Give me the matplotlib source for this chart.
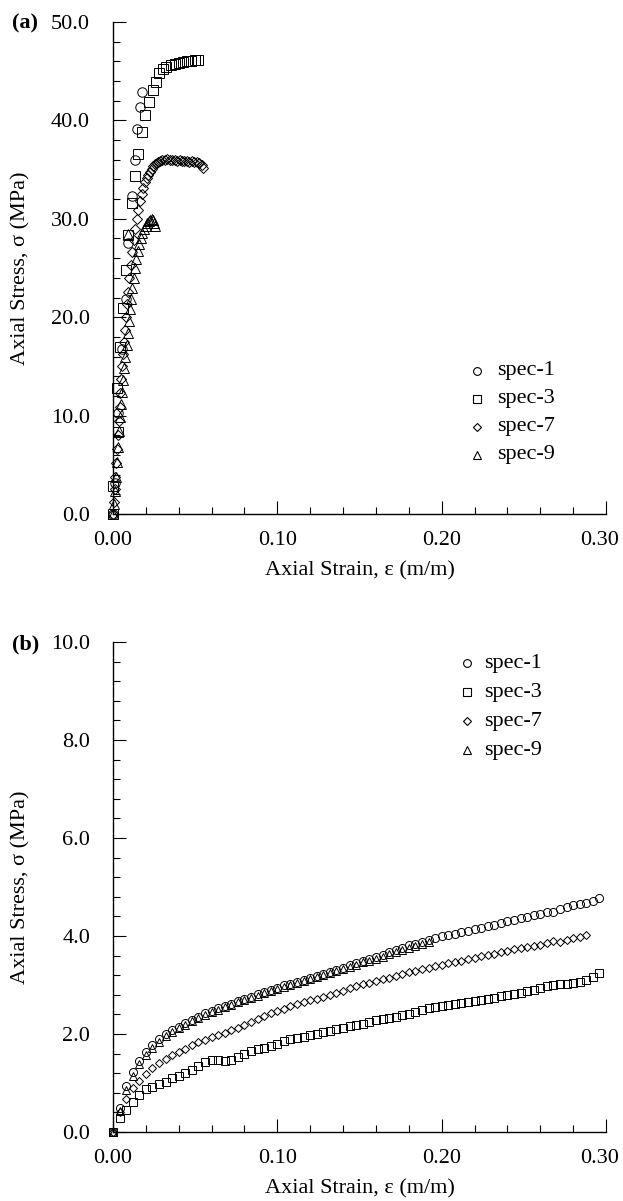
import matplotlib
matplotlib.use("Agg")
import matplotlib.pyplot as plt
from matplotlib.ticker import MultipleLocator, FormatStrFormatter
from matplotlib.transforms import ScaledTranslation

plt.rcParams['font.family'] = ['Liberation Serif', 'DejaVu Serif']

# ---------------- Data: panel (a) ----------------
a_spec1_strain = [0.0, 0.0012, 0.0032, 0.0055, 0.0077, 0.0093, 0.0114, 0.0134, 0.0148, 0.0162, 0.0175]
a_spec1_stress = [0.0, 3.1, 10.3, 16.8, 21.8, 27.5, 32.3, 36.0, 39.1, 41.4, 42.9]

a_spec3_strain = [0.0, 0.0002, 0.0032, 0.0023, 0.0043, 0.0063, 0.0080, 0.0093, 0.0117, 0.0136,
                  0.0154, 0.0175, 0.0195, 0.0219, 0.0241, 0.0260, 0.0282, 0.0302, 0.0325, 0.0350,
                  0.0375, 0.0400, 0.0425, 0.0450, 0.0475, 0.0500, 0.0520]
a_spec3_stress = [0.0, 2.8, 8.3, 12.8, 17.0, 20.9, 24.8, 28.4, 31.6, 34.3,
                  36.6, 38.8, 40.5, 41.9, 43.1, 43.9, 44.8, 45.2, 45.45, 45.6,
                  45.75, 45.85, 45.95, 46.0, 46.05, 46.1, 46.1]

a_spec7_strain = [0.0, 0.0005, 0.001, 0.0015, 0.002, 0.0025, 0.003, 0.0035, 0.004, 0.0045,
                  0.005, 0.0055, 0.006, 0.0065, 0.007, 0.0078, 0.0085, 0.0092, 0.010, 0.0108,
                  0.0117, 0.0126, 0.0135, 0.0145, 0.0155, 0.0165, 0.0175, 0.0185, 0.0195, 0.0205,
                  0.0215, 0.0225, 0.0235, 0.0245, 0.0255, 0.0265, 0.0275, 0.0285, 0.030, 0.0315,
                  0.033, 0.0345, 0.036, 0.0375, 0.039, 0.0405, 0.042, 0.0435, 0.045, 0.0465,
                  0.048, 0.0495, 0.051, 0.0525, 0.054, 0.055]
a_spec7_stress = [0.0, 1.2, 2.5, 3.8, 5.2, 6.6, 8.0, 9.5, 10.9, 12.3,
                  13.7, 15.0, 16.3, 17.5, 18.7, 20.0, 21.3, 22.6, 24.0, 25.3,
                  26.6, 27.8, 29.0, 30.0, 30.9, 31.8, 32.5, 33.1, 33.7, 34.1,
                  34.5, 34.8, 35.1, 35.4, 35.6, 35.7, 35.8, 35.9, 36.0, 36.0,
                  36.1, 36.0, 36.0, 36.0, 35.9, 36.0, 35.9, 35.9, 35.9, 35.8,
                  35.9, 35.8, 35.8, 35.7, 35.5, 35.2]

a_spec9_strain = [0.0, 0.0006, 0.0012, 0.0018, 0.0024, 0.003, 0.0036, 0.0042, 0.0048, 0.0055,
                  0.0062, 0.0069, 0.0076, 0.0083, 0.0090, 0.0090, 0.0097, 0.0104, 0.0111, 0.0118,
                  0.0125, 0.0133, 0.0141, 0.0150, 0.0159, 0.0168, 0.0178, 0.0188, 0.0198, 0.0208,
                  0.0218, 0.0228, 0.0238, 0.0245, 0.0250, 0.0255]
a_spec9_stress = [0.0, 1.0, 2.3, 3.8, 5.3, 6.8, 8.4, 9.9, 11.2, 12.4,
                  13.6, 14.8, 16.0, 17.2, 18.4, 28.5, 19.6, 20.8, 21.9, 23.0,
                  24.0, 25.0, 25.9, 26.7, 27.4, 28.0, 28.6, 29.0, 29.3, 29.6,
                  29.8, 29.9, 30.0, 29.9, 29.6, 29.3]

# ---------------- Data: panel (b) ----------------
b_strain = [0.000, 0.004, 0.008, 0.012, 0.016, 0.020, 0.024, 0.028, 0.032, 0.036,
            0.040, 0.044, 0.048, 0.052, 0.056, 0.060, 0.064, 0.068, 0.072, 0.076,
            0.080, 0.084, 0.088, 0.092, 0.096, 0.100, 0.104, 0.108, 0.112, 0.116,
            0.120, 0.124, 0.128, 0.132, 0.136, 0.140, 0.144, 0.148, 0.152, 0.156,
            0.160, 0.164, 0.168, 0.172, 0.176, 0.180, 0.184, 0.188, 0.192, 0.196,
            0.200, 0.204, 0.208, 0.212, 0.216, 0.220, 0.224, 0.228, 0.232, 0.236,
            0.240, 0.244, 0.248, 0.252, 0.256, 0.260, 0.264, 0.268, 0.272, 0.276,
            0.280, 0.284, 0.288, 0.292, 0.296]

b_spec1_stress = [0.00, 0.50, 0.93, 1.22, 1.45, 1.63, 1.78, 1.89, 1.99, 2.08,
                  2.15, 2.22, 2.28, 2.35, 2.42, 2.47, 2.53, 2.57, 2.62, 2.67,
                  2.71, 2.76, 2.81, 2.85, 2.90, 2.94, 2.99, 3.03, 3.07, 3.10,
                  3.14, 3.18, 3.22, 3.26, 3.31, 3.35, 3.40, 3.44, 3.49, 3.53,
                  3.58, 3.62, 3.67, 3.72, 3.76, 3.81, 3.84, 3.88, 3.92, 3.96,
                  3.99, 4.02, 4.05, 4.08, 4.10, 4.14, 4.17, 4.20, 4.23, 4.27,
                  4.30, 4.33, 4.36, 4.38, 4.42, 4.45, 4.50, 4.48, 4.56, 4.60,
                  4.63, 4.65, 4.68, 4.72, 4.78]

b_spec3_stress = [0.00, 0.28, 0.45, 0.62, 0.76, 0.87, 0.92, 0.97, 1.03, 1.10,
                  1.15, 1.20, 1.27, 1.34, 1.43, 1.47, 1.46, 1.45, 1.47, 1.53,
                  1.60, 1.65, 1.69, 1.72, 1.76, 1.80, 1.86, 1.89, 1.91, 1.94,
                  1.97, 2.00, 2.04, 2.07, 2.10, 2.13, 2.17, 2.19, 2.21, 2.24,
                  2.28, 2.31, 2.33, 2.35, 2.38, 2.41, 2.45, 2.49, 2.54, 2.56,
                  2.57, 2.59, 2.61, 2.63, 2.65, 2.67, 2.70, 2.72, 2.74, 2.77,
                  2.80, 2.82, 2.84, 2.87, 2.90, 2.93, 2.98, 3.00, 3.02, 3.03,
                  3.04, 3.06, 3.10, 3.16, 3.24]

b_spec7_stress = [0.00, 0.40, 0.68, 0.90, 1.05, 1.18, 1.30, 1.40, 1.50, 1.57,
                  1.64, 1.70, 1.77, 1.83, 1.88, 1.93, 1.98, 2.03, 2.08, 2.13,
                  2.18, 2.24, 2.30, 2.36, 2.42, 2.47, 2.52, 2.58, 2.62, 2.65,
                  2.69, 2.72, 2.76, 2.80, 2.84, 2.88, 2.93, 2.98, 3.02, 3.05,
                  3.08, 3.12, 3.15, 3.19, 3.22, 3.26, 3.29, 3.32, 3.35, 3.38,
                  3.41, 3.44, 3.47, 3.50, 3.53, 3.56, 3.59, 3.61, 3.64, 3.67,
                  3.70, 3.73, 3.75, 3.78, 3.80, 3.82, 3.85, 3.89, 3.87, 3.91,
                  3.95, 3.98, 4.03]

b_spec9_stress = [0.00, 0.42, 0.85, 1.15, 1.38, 1.57, 1.72, 1.84, 1.95, 2.04,
                  2.12, 2.19, 2.26, 2.32, 2.38, 2.44, 2.50, 2.55, 2.60, 2.65,
                  2.69, 2.74, 2.78, 2.83, 2.87, 2.92, 2.96, 3.00, 3.04, 3.08,
                  3.12, 3.16, 3.20, 3.24, 3.28, 3.33, 3.37, 3.41, 3.46, 3.50,
                  3.54, 3.58, 3.63, 3.67, 3.71, 3.75, 3.79, 3.83, 3.87]

labels = ['spec-1', 'spec-3', 'spec-7', 'spec-9']
markers = ['o', 's', 'D', '^']

FS = 16

fig = plt.figure(figsize=(6.23, 12.01), dpi=100)
W, H = 623.0, 1201.0
ax1 = fig.add_axes([113 / W, 1 - 514 / H, 493 / W, 492 / H])
ax2 = fig.add_axes([113 / W, 1 - 1132 / H, 493 / W, 490 / H])


def msz(m, base):
    if m == 'D':
        return base * 0.72
    if m == '^':
        return base * 1.05
    return base


def style_axes(ax, ymax, ymajor, yminor, ypad):
    ax.set_xlim(0, 0.30)
    ax.set_ylim(0, ymax)
    for s in ['top', 'right']:
        ax.spines[s].set_visible(False)
    for s in ['left', 'bottom']:
        ax.spines[s].set_linewidth(1.0)
    ax.xaxis.set_major_locator(MultipleLocator(0.10))
    ax.xaxis.set_minor_locator(MultipleLocator(0.02))
    ax.yaxis.set_major_locator(MultipleLocator(ymajor))
    ax.yaxis.set_minor_locator(MultipleLocator(yminor))
    ax.xaxis.set_major_formatter(FormatStrFormatter('%.2f'))
    ax.yaxis.set_major_formatter(FormatStrFormatter('%.1f'))
    ax.tick_params(which='both', direction='in', top=False, right=False, labelsize=FS)
    ax.tick_params(which='major', length=9.5, width=0.8)
    ax.tick_params(which='minor', length=4.8, width=0.8)
    ax.tick_params(axis='x', which='major', pad=12.5)
    ax.tick_params(axis='y', which='major', pad=ypad)


# Panel (a)
a_data = [(a_spec1_strain, a_spec1_stress), (a_spec3_strain, a_spec3_stress),
          (a_spec7_strain, a_spec7_stress), (a_spec9_strain, a_spec9_stress)]
for (x, y), m in zip(a_data, markers):
    ax1.plot(x, y, linestyle='none', marker=m, markersize=msz(m, 6.8),
             markerfacecolor='none', markeredgecolor='black', markeredgewidth=0.7,
             clip_on=False)
style_axes(ax1, 50, 10, 2, 16.5)

# Panel (b)
b_data = [(b_strain[:len(b_spec1_stress)], b_spec1_stress),
          (b_strain[:len(b_spec3_stress)], b_spec3_stress),
          (b_strain[:len(b_spec7_stress)], b_spec7_stress),
          (b_strain[:len(b_spec9_stress)], b_spec9_stress)]
for (x, y), m in zip(b_data, markers):
    ax2.plot(x, y, linestyle='none', marker=m, markersize=msz(m, 5.8),
             markerfacecolor='none', markeredgecolor='black', markeredgewidth=0.7,
             clip_on=False)
style_axes(ax2, 10, 2, 0.4, 16.5)

# keep the last x tick label inside the figure, as in the reference
for ax in (ax1, ax2):
    ax.set_xticks([0.0, 0.1, 0.2, 0.3])
    lab = ax.get_xticklabels()[-1]
    lab.set_transform(lab.get_transform() + ScaledTranslation(-6 / 100, 0, fig.dpi_scale_trans))


# Legends (manual, positioned as in reference)
def legend(ax, xm, xt, ys):
    for lab, m, yy in zip(labels, markers, ys):
        ax.plot([xm], [yy], transform=ax.transAxes, linestyle='none', marker=m,
                markersize=msz(m, 5.6), markerfacecolor='none', markeredgecolor='black',
                markeredgewidth=0.8, clip_on=False)
        ax.text(xt, yy, lab, transform=ax.transAxes, fontsize=FS, ha='left', va='center')

legend(ax1, (477 - 113) / 493, (497 - 113) / 493,
       [(514 - y) / 492 for y in (371, 399, 427, 455)])
legend(ax2, (467 - 113) / 493, (484 - 113) / 493,
       [(1132 - y) / 490 for y in (663, 692, 721, 750)])

# Axis labels
for ytop, ybot in ((22, 514), (642, 1132)):
    fig.text(21 / W, 1 - ((ytop + ybot) / 2) / H, 'Axial Stress, σ (MPa)', rotation=90,
             ha='center', va='center', fontsize=FS)
    fig.text(359.5 / W, 1 - (ybot + 61) / H, 'Axial Strain, ε (m/m)',
             ha='center', va='baseline', fontsize=FS)

fig.text(12 / W, 1 - 28.5 / H, '(a)', fontsize=FS, fontweight='bold', ha='left', va='baseline')
fig.text(12 / W, 1 - 649 / H, '(b)', fontsize=FS, fontweight='bold', ha='left', va='baseline')

fig.savefig('out.png', dpi=100)
